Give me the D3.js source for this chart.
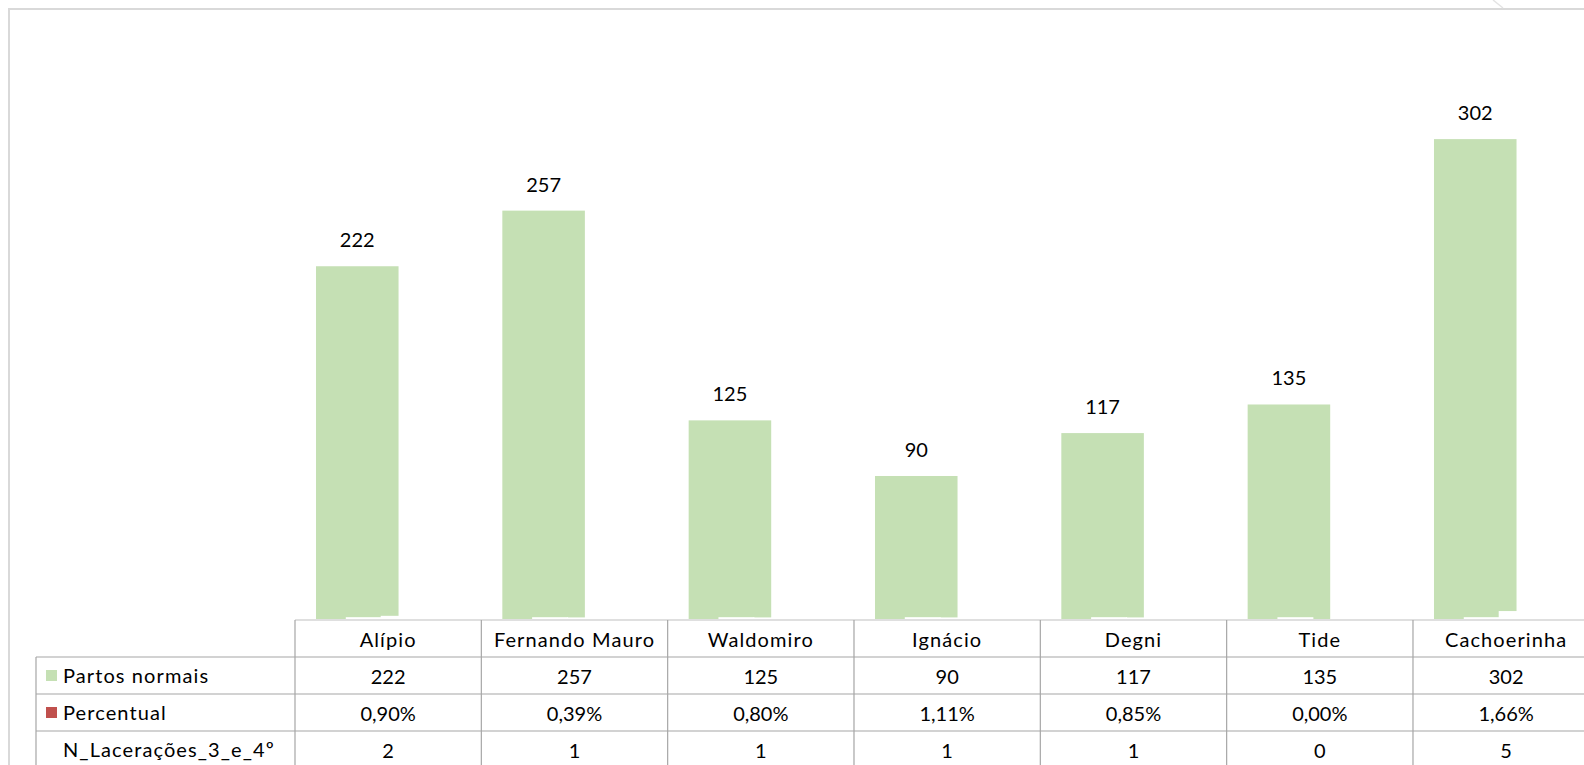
<!DOCTYPE html>
<html>
<head>
<meta charset="utf-8">
<script src="https://cdn.jsdelivr.net/npm/d3@7"></script>
<style>
  html, body { margin: 0; padding: 0; background: #fff; overflow: hidden; }
  svg { display: block; }
  text { font-family: Lato, "Open Sans", "Noto Sans", sans-serif; fill: #000; }
</style>
</head>
<body>
<svg id="chart" width="1584" height="765"></svg>
<script>
// ---- data ----
const categories = ["Alípio", "Fernando Mauro", "Waldomiro", "Ignácio", "Degni", "Tide", "Cachoerinha"];
const partosNormais = [222, 257, 125, 90, 117, 135, 302];
const percentual = [0.0090, 0.0039, 0.0080, 0.0111, 0.0085, 0.0000, 0.0166];
const nLaceracoes = [2, 1, 1, 1, 1, 0, 5];
const seriesNames = ["Partos normais", "Percentual", "N_Lacerações_3_e_4º"];
const yDomain = [0, 350];

// ---- layout ----
const W = 1584, H = 765;
const svg = d3.select("#chart");
const tableLeft = 295, colW = 186.33;
const legendLeft = 36;
const rowTops = [620, 657, 694, 731, 768];
const baseY = 619;
const fontSize = 20;
const wordSpacing = 1.1;

const x = d3.scaleBand().domain(categories)
  .range([tableLeft, tableLeft + colW * categories.length]).paddingInner(0).paddingOuter(0);
const y = d3.scaleLinear().domain(yDomain).range([baseY, baseY - 350 * 1.589]);

// chart frame
svg.append("rect").attr("x", 9).attr("y", 9).attr("width", W + 20).attr("height", H + 20)
  .attr("fill", "none").attr("stroke", "#d9d9d9").attr("stroke-width", 2);
svg.append("line").attr("x1", 1493).attr("y1", 0).attr("x2", 1503).attr("y2", 8)
  .attr("stroke", "#e3e3e3").attr("stroke-width", 1.5);

const bw = x.bandwidth();
// green bars
svg.append("g").selectAll("rect").data(partosNormais).join("rect")
  .attr("x", (d, i) => x(categories[i]) + bw * 0.1127)
  .attr("width", bw * 0.443)
  .attr("y", d => y(d))
  .attr("height", d => y(0) - y(d))
  .attr("fill", "#c5e0b4");

// percentual bars (on same axis, near zero) with white outline
svg.append("g").selectAll("rect").data(percentual).join("rect")
  .attr("x", (d, i) => x(categories[i]) + bw * 0.279)
  .attr("width", bw * 0.18)
  .attr("y", d => y(d) - 0.6)
  .attr("height", d => y(0) - y(d) + 0.6)
  .attr("fill", "#c0504d")
  .attr("stroke", "#fff").attr("stroke-width", 2.4);

// N_Lacerações bars (white)
svg.append("g").selectAll("rect").data(nLaceracoes).join("rect")
  .attr("x", (d, i) => x(categories[i]) + bw * 0.46)
  .attr("width", bw * 0.18)
  .attr("y", d => y(d))
  .attr("height", d => y(0) - y(d))
  .attr("fill", "#fff");

// data labels
svg.append("g").selectAll("text").data(partosNormais).join("text")
  .attr("x", (d, i) => x(categories[i]) + bw * 0.1127 + bw * 0.443 / 2)
  .attr("y", d => y(d) - 19)
  .attr("text-anchor", "middle")
  .attr("font-size", fontSize)
  .text(d => d);

// ---- data table ----
const grid = svg.append("g").attr("stroke", "#a6a6a6").attr("stroke-width", 1.2);
const right = W + 10;
grid.append("line").attr("x1", tableLeft).attr("x2", right).attr("y1", rowTops[0]).attr("y2", rowTops[0]).attr("stroke", "#bfbfbf");
for (let r = 1; r < rowTops.length - 1; r++) {
  grid.append("line").attr("x1", legendLeft).attr("x2", right).attr("y1", rowTops[r]).attr("y2", rowTops[r]);
}
grid.append("line").attr("x1", legendLeft).attr("x2", legendLeft).attr("y1", rowTops[1]).attr("y2", H);
categories.forEach((c, i) => {
  grid.append("line").attr("x1", x(c)).attr("x2", x(c)).attr("y1", rowTops[0]).attr("y2", H);
});

const fmtPct = d => d3.format(".2%")(d).replace(".", ",");
const rows = [
  categories,
  partosNormais.map(String),
  percentual.map(fmtPct),
  nLaceracoes.map(String)
];
rows.forEach((vals, r) => {
  svg.append("g").selectAll("text").data(vals).join("text")
    .attr("x", (d, i) => x(categories[i]) + bw / 2)
    .attr("y", rowTops[r] + 27)
    .attr("text-anchor", "middle")
    .attr("font-size", fontSize)
    .attr("letter-spacing", r === 0 ? wordSpacing : 0)
    .text(d => d);
});

// legend cells
const keyColors = ["#c5e0b4", "#c0504d", null];
seriesNames.forEach((s, k) => {
  const top = rowTops[k + 1];
  if (keyColors[k]) {
    svg.append("rect").attr("x", 46).attr("y", top + 13).attr("width", 11).attr("height", 11)
      .attr("fill", keyColors[k]);
  }
  svg.append("text").attr("x", 63).attr("y", top + 26).attr("font-size", fontSize)
    .attr("letter-spacing", wordSpacing).text(s);
});
</script>
</body>
</html>
